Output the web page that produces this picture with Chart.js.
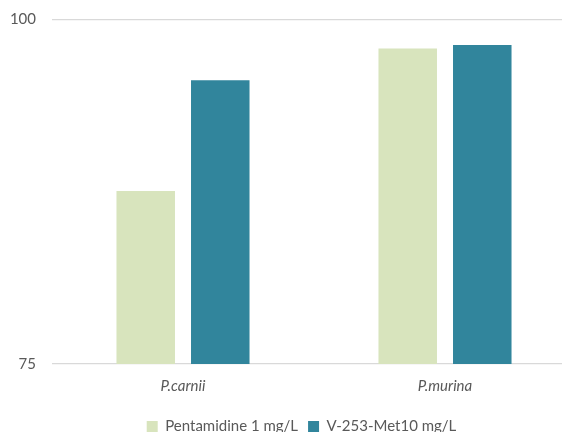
<!DOCTYPE html>
<html>
<head>
<meta charset="utf-8">
<script src="https://cdn.jsdelivr.net/npm/chart.js@4"></script>
<style>
  html, body { margin: 0; padding: 0; background: #fff; overflow: hidden; }
  #wrap { width: 603px; height: 432px; }
</style>
</head>
<body>
<div id="wrap"><canvas id="c" width="603" height="432"></canvas></div>
<script>
const categories = ['P.carnii', 'P.murina'];
const seriesNames = ['Pentamidine 1 mg/L', 'V-253-Met10 mg/L'];
const pentamidine = [87.55, 97.9];
const v253 = [95.6, 98.15];
const yTicks = [75, 100];

const FONT = 'Lato, "Open Sans", sans-serif';
const TXT = '#595959';

new Chart(document.getElementById('c'), {
  type: 'bar',
  data: {
    labels: categories,
    datasets: [
      { label: seriesNames[0], data: pentamidine, backgroundColor: '#d8e4bd', borderWidth: 0,
        categoryPercentage: 0.569, barPercentage: 0.785 },
      { label: seriesNames[1], data: v253, backgroundColor: '#31859c', borderWidth: 0,
        categoryPercentage: 0.569, barPercentage: 0.785 }
    ]
  },
  options: {
    responsive: false,
    animation: false,
    layout: { padding: { top: 19.5, left: 0, right: 0, bottom: -12 } },
    plugins: {
      tooltip: { enabled: false },
      legend: {
        position: 'bottom',
        labels: {
          color: TXT,
          font: { family: FONT, size: 15 },
          boxWidth: 11, boxHeight: 11,
          padding: 10
        }
      }
    },
    scales: {
      x: {
        grid: { display: false },
        border: { display: false },
        ticks: { color: TXT, font: { family: FONT, size: 15, style: 'italic' }, padding: 5 },
        afterFit: s => { s.height = 45; }
      },
      y: {
        min: 75, max: 100,
        afterBuildTicks: s => { s.ticks = yTicks.map(v => ({ value: v })); },
        grid: { color: '#d9d9d9', lineWidth: 1.2, drawTicks: false },
        border: { display: false },
        ticks: { color: TXT, font: { family: FONT, size: 15 }, padding: 16 },
        afterFit: s => { s.width = 52; s.paddingTop = 0; s.paddingBottom = 0; }
      },
      y2: {
        position: 'right',
        display: true,
        grid: { display: false },
        border: { display: false },
        ticks: { display: false },
        afterFit: s => { s.width = 27; s.paddingTop = 0; s.paddingBottom = 0; }
      }
    }
  }
});
</script>
</body>
</html>
